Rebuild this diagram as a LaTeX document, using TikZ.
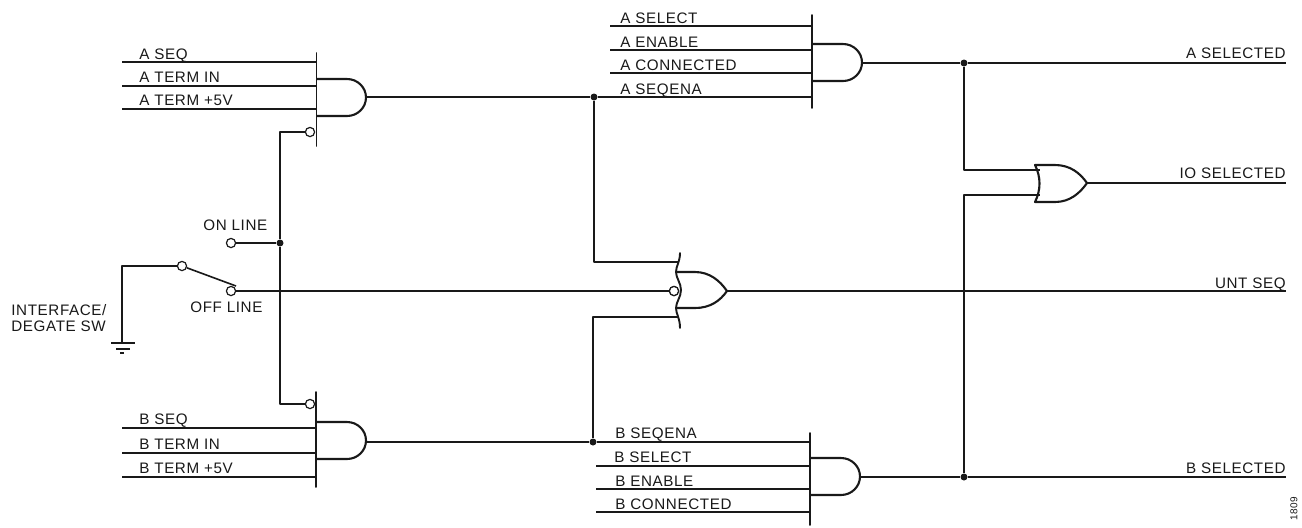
\documentclass[tikz,border=0pt]{standalone}
\usepackage{fontspec}
\setmainfont[LetterSpace=4]{Liberation Sans}
\begin{document}
\begin{tikzpicture}[x=0.5pt,y=-0.5pt,
  wire/.style={line width=0.6pt,black!90,line join=round},
  bar/.style={line width=0.95pt,black!90,line cap=round},
  gatebody/.style={line width=1.05pt,black!90,line join=round},
  lbl/.style={inner sep=0pt,font=\fontsize{7.6}{9}\selectfont,text=black!90},
  lw/.style={lbl,anchor=base west},
  le/.style={lbl,anchor=base east},
  bub/.style={circle,draw=black!90,fill=white,line width=0.6pt,inner sep=0pt,minimum size=4.6pt},
  dot/.style={circle,fill=black!90,inner sep=0pt,minimum size=3.5pt}]
\useasboundingbox[fill=white] (0,0) rectangle (1302,527);

% --- junctions and corners
\node[dot] (jA) at (594,97) {};
\node[dot] (jB) at (593,442) {};
\node[dot] (jAS) at (964,63) {};
\node[dot] (jBS) at (964,477) {};
\node[dot] (jOn) at (280,243) {};
\node[bub] (bA) at (310,132) {};
\node[bub] (bB) at (310,404) {};
\node[bub] (bC) at (674,291) {};
\node[bub] (sOn) at (231,243) {};
\node[bub] (sOff) at (231,291) {};
\node[bub] (sCom) at (182,266) {};

% --- free wire ends
\foreach \n/\x/\y in {a1/122/62,a2/122/86,a3/122/109,a1e/316/62,a2e/316/86,a3e/316/109,
  b1/122/428,b2/122/453,b3/122/477,b1e/316/428,b2e/316/453,b3e/316/477,
  c1/610/26,c2/610/50,c3/610/73,c1e/812/26,c2e/812/50,c3e/812/73,c4e/812/97,
  d2/596/466,d3/596/489,d4/596/512,d1e/810/442,d2e/810/466,d3e/810/489,d4e/810/512,
  aOut/366/97,bOut/366/442,cOut/862/63,dOut/860/477,eOut/1087/183,fOut/727/291,
  rA/1286/63,rE/1286/183,rF/1286/291,rD/1286/477,
  orIn1/1040/170,orIn2/1040/195,cIn1/678/262,cIn2/678/317,gnd/122/343}
  {\coordinate (\n) at (\x,\y);}

% --- wires
\foreach \p/\q in {a1/a1e,a2/a2e,a3/a3e,b1/b1e,b2/b2e,b3/b3e,c1/c1e,c2/c2e,c3/c3e,d2/d2e,d3/d3e,d4/d4e,jA/c4e,jB/d1e}
  {\draw[wire] (\p) -- (\q);}
\draw[wire] (aOut) -- (jA);
\draw[wire] (bOut) -- (jB);
\draw[wire] (cOut) -- (jAS) -- (rA);
\draw[wire] (dOut) -- (jBS) -- (rD);
\draw[wire] (eOut) -- (rE);
\draw[wire] (fOut) -- (rF);
\draw[wire] (jAS) |- (orIn1);
\draw[wire] (jBS) |- (orIn2);
\draw[wire] (jA) |- (cIn1);
\draw[wire] (jB) |- (cIn2);
\draw[wire] (bA.west) -| (jOn);
\draw[wire] (bB.west) -| (jOn);
\draw[wire] (sOn) -- (jOn);
\draw[wire] (sOff.east) -- (bC.west);
\draw[wire] (sCom.west) -| (gnd);
\draw[wire,line width=0.8pt] (sCom) -- (236,286);

% --- ground symbol
\draw[bar,line cap=butt] (111,343) -- (135,343);
\draw[bar,line cap=butt] (116,349) -- (130,349);
\draw[bar,line cap=butt] (120,353) -- (124,353);

% --- gate bars
\draw[bar] (316.5,53) -- (316.5,146);
\draw[bar] (316,392) -- (316,487);
\draw[bar] (812,15) -- (812,108);
\draw[bar] (810,433) -- (810,525);

% --- AND gates
\draw[gatebody] (316.5,79) -- (347,79) arc[start angle=-90,end angle=90,x radius=19,y radius=18.5] -- (316.5,116);
\draw[gatebody] (316,422) -- (347,422) arc[start angle=-90,end angle=90,x radius=19,y radius=18.5] -- (316,459);
\draw[gatebody] (812,44) -- (843,44) arc[start angle=-90,end angle=90,x radius=19,y radius=18.5] -- (812,81);
\draw[gatebody] (810,458) -- (841,458) arc[start angle=-90,end angle=90,x radius=19,y radius=18.5] -- (810,495);

% --- OR gates
\draw[gatebody] (1035,165) -- (1055,165) .. controls (1070,165) and (1080,173) .. (1087,183)
  .. controls (1080,193) and (1070,202) .. (1055,202) -- (1035,202)
  .. controls (1041,190) and (1041,177) .. (1035,165) -- cycle;
\draw[gatebody] (677,272) -- (695,272) .. controls (710,272) and (720,281) .. (727,291)
  .. controls (720,301) and (710,308) .. (695,308) -- (677,308);
\draw[bar] (680,253) .. controls (680,262) and (676,266) .. (676,272)
  .. controls (676,278) and (681,283) .. (681,290)
  .. controls (681,297) and (676,302) .. (676,308)
  .. controls (676,314) and (680,318) .. (680,328);
\node[bub] (bC2) at (bC) {};

% --- labels
\node[lw] (tA1) at (139,59) {A SEQ};
\node[lw] (tA2) at (139,82) {A TERM IN};
\node[lw] (tA3) at (139,105.5) {A TERM +5V};
\node[lw] (tB1) at (139,424) {B SEQ};
\node[lw] (tB2) at (139,449) {B TERM IN};
\node[lw] (tB3) at (139,473) {B TERM +5V};
\node[lw] (tC1) at (620,23) {A SELECT};
\node[lw] (tC2) at (620,47) {A ENABLE};
\node[lw] (tC3) at (620,70.5) {A CONNECTED};
\node[lw] (tC4) at (620,94) {A SEQENA};
\node[lw] (tD1) at (615,438) {B SEQENA};
\node[lw] (tD2) at (614,462) {B SELECT};
\node[lw] (tD3) at (615,486) {B ENABLE};
\node[lw] (tD4) at (615,509) {B CONNECTED};
\node[le] (tR1) at (1286,58) {A SELECTED};
\node[le] (tR2) at (1286,178) {IO SELECTED};
\node[le] (tR3) at (1286,288) {UNT SEQ};
\node[le] (tR4) at (1286,473) {B SELECTED};
\node[lw] (tOn) at (203,230) {ON LINE};
\node[lw] (tOff) at (190,312) {OFF LINE};
\node[lw] (tI1) at (11,315) {INTERFACE/};
\node[lw] (tI2) at (11,331) {DEGATE SW};
\node[lbl,rotate=90,font=\fontsize{5}{6}\selectfont] (tNum) at (1294,509) {1809};
\end{tikzpicture}
\end{document}
